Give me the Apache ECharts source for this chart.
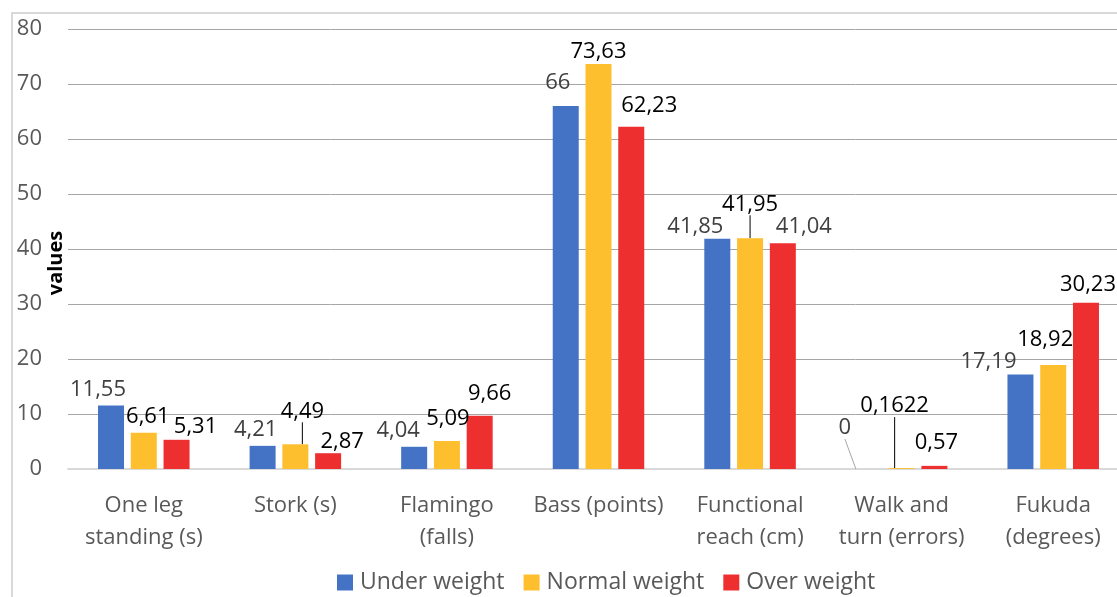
<!DOCTYPE html>
<html><head><meta charset="utf-8">
<script src="https://cdn.jsdelivr.net/npm/echarts@6/dist/echarts.min.js"></script>
<style>html,body{margin:0;padding:0;background:#fff}#c{width:1117px;height:597px}</style>
</head><body><div id="c"></div>
<script>
const categories = ['One leg\nstanding (s)', 'Stork (s)', 'Flamingo\n(falls)', 'Bass (points)', 'Functional\nreach (cm)', 'Walk and\nturn (errors)', 'Fukuda\n(degrees)'];
const underWeight = [11.55, 4.21, 4.04, 66, 41.85, 0, 17.19];
const normalWeight = [6.61, 4.49, 5.09, 73.63, 41.95, 0.1622, 18.92];
const overWeight = [5.31, 2.87, 9.66, 62.23, 41.04, 0.57, 30.23];
const seriesNames = ['Under weight', 'Normal weight', 'Over weight'];
const yAxisTitle = 'values';
const yTicks = {min: 0, max: 80, interval: 10};

// label nudges (style only)
const labelShift = [
  [[-13,0],[-7,0],[-16,0],[-8,-7],[-22,4],[-24,-25],[-32,3]],
  [[4,0],[7,-17],[1,-6],[0,4],[0,-18],[-7,-46],[-8,-9]],
  [[19,3],[14,5],[10,-6],[18,-5],[21,-1],[2,-7],[2,-2]]
];
const leader = {'1-1':'#000','1-4':'#000','1-5':'#000','0-5':'#a6a6a6'};
const colors = ['#4472C4', '#FDBF2D', '#EE2F2F'];
const labelColors = ['#404040', '#000000', '#000000'];
const FONT = 'Open Sans';

function fmt(v){ return String(v).replace('.', ','); }

function buildSeries(name, values, si){
  return {
    name: name, type: 'bar', barWidth: 26, barGap: '26%',
    itemStyle: {color: colors[si]},
    label: {show: true, position: 'top', distance: 5, fontFamily: FONT, fontSize: 22,
      color: labelColors[si], formatter: p => fmt(p.value)},
    labelLayout: function(p){ const s = labelShift[si][p.dataIndex]; return {dx: s[0], dy: s[1]}; },
    labelLine: {show: false},
    data: values.map((v, i) => {
      const key = si + '-' + i;
      const d = {value: v};
      if (leader[key]) d.labelLine = {show: true, lineStyle: {color: leader[key], width: 1}};
      if (si === 2 && i === 4) d.label = {color: '#404040'};
      return d;
    })
  };
}

const chart = echarts.init(document.getElementById('c'), null, {renderer: 'canvas'});
chart.setOption({
  animation: false,
  textStyle: {fontFamily: FONT},
  graphic: [
    {type: 'rect', shape: {x: 12, y: 13, width: 1200, height: 700},
      style: {fill: 'none', stroke: '#d9d9d9', lineWidth: 2}, z: -1},
    {type: 'text', x: 56, y: 263, rotation: Math.PI / 2,
      style: {text: yAxisTitle, fill: '#000', font: 'bold 20px "Open Sans"', textAlign: 'center', textVerticalAlign: 'middle'}}
  ],
  grid: {left: 68, right: -12, top: 29, bottom: 128, containLabel: false, outerBoundsMode: 'none'},
  legend: {data: seriesNames, left: 332, top: 566, itemWidth: 16, itemHeight: 16, itemGap: 19,
    icon: 'rect', textStyle: {fontFamily: FONT, fontSize: 23, color: '#595959', padding: [0,0,0,2]}},
  xAxis: {type: 'category', data: categories,
    axisLine: {lineStyle: {color: '#d9d9d9', width: 2}}, axisTick: {show: false},
    axisLabel: {fontFamily: FONT, fontSize: 22, color: '#595959', lineHeight: 32, margin: 21, interval: 0}},
  yAxis: {type: 'value', min: yTicks.min, max: yTicks.max, interval: yTicks.interval,
    axisLine: {show: false}, axisTick: {show: false},
    axisLabel: {fontFamily: FONT, fontSize: 22, color: '#595959', margin: 26},
    splitLine: {lineStyle: {color: '#a6a6a6', width: 1}}},
  series: [
    buildSeries(seriesNames[0], underWeight, 0),
    buildSeries(seriesNames[1], normalWeight, 1),
    buildSeries(seriesNames[2], overWeight, 2)
  ]
});
</script></body></html>
